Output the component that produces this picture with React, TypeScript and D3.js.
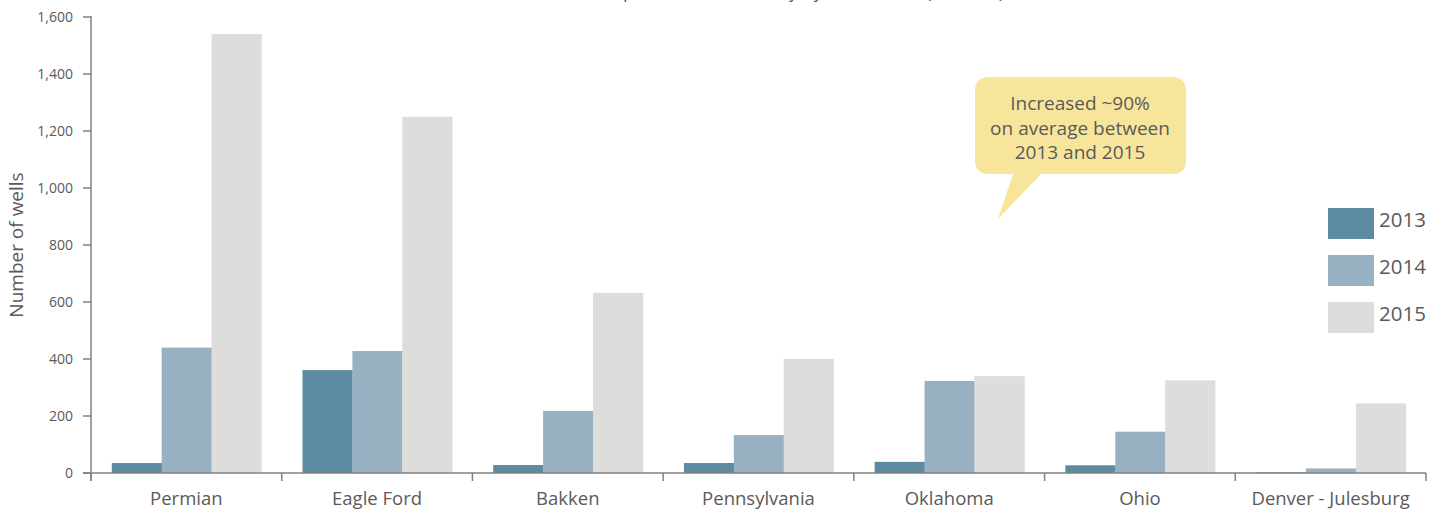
import React, { useEffect } from "react";
import * as d3 from "d3";

const categories = ["Permian", "Eagle Ford", "Bakken", "Pennsylvania", "Oklahoma", "Ohio", "Denver - Julesburg"];
const years = ["2013", "2014", "2015"];
const values2013 = [35, 361, 28, 35, 39, 27, 2];
const values2014 = [440, 428, 218, 133, 323, 145, 16];
const values2015 = [1540, 1250, 632, 400, 340, 325, 244];
const yTicks = [0, 200, 400, 600, 800, 1000, 1200, 1400, 1600];
const colors = ["#5b8aa2", "#97b1c3", "#dddddc"];
const titleText = "Drilled but uncompleted well inventory by shale basin (number)";
const calloutLines = ["Increased ~90%", "on average between", "2013 and 2015"];

const W = 1445;
const H = 514;
const FONT = "'Open Sans', 'Noto Sans', sans-serif";
const TXT = "#5a5a5a";
const AX = "#808080";

export default function App() {
  useEffect(() => {
    document.body.style.margin = "0";
  }, []);

  const series = [values2013, values2014, values2015];
  const x = d3.scaleBand<string>().domain(categories).range([91, 1426]).padding(0);
  const bw = x.bandwidth();
  const xs = d3.scaleBand<string>().domain(years).range([bw * 0.109, bw * 0.894]).padding(0);
  const y = d3.scaleLinear().domain([0, 1600]).range([473, 17]);
  const fmt = d3.format(",");

  const boundaries = categories.map((c) => x(c) as number).concat([x.range()[1]]);

  const bx0 = 975, bx1 = 1186, by0 = 77, by1 = 174, r = 14;
  const callout = `M${bx0 + r},${by0} H${bx1 - r} Q${bx1},${by0} ${bx1},${by0 + r} V${by1 - r} Q${bx1},${by1} ${bx1 - r},${by1} H1041 L998,219 L1013,${by1} H${bx0 + r} Q${bx0},${by1} ${bx0},${by1 - r} V${by0 + r} Q${bx0},${by0} ${bx0 + r},${by0} Z`;

  return (
    <svg width={W} height={H} style={{ display: "block", fontFamily: FONT, fontWeight: 400 }}>
      <rect width={W} height={H} fill="#fff" />
      <text x={738} y={-2} textAnchor="middle" fontSize={18} fill={TXT}>{titleText}</text>

      {categories.map((c, i) => (
        <g key={c} transform={`translate(${x(c)},0)`}>
          {years.map((yr, k) => {
            const v = series[k][i];
            return (
              <rect key={yr} x={xs(yr)} y={y(v)} width={xs.bandwidth() + 0.3} height={y(0) - y(v)} fill={colors[k]} />
            );
          })}
        </g>
      ))}

      <line x1={91} x2={91} y1={16} y2={481} stroke={AX} strokeWidth={1.5} />
      {yTicks.map((t) => (
        <g key={t}>
          <line x1={83} x2={91} y1={y(t)} y2={y(t)} stroke={AX} strokeWidth={1.5} />
          <text x={73} y={y(t)} dy="0.35em" textAnchor="end" fontSize={14} fill={TXT}>{fmt(t)}</text>
        </g>
      ))}
      <text transform={`translate(23,245) rotate(-90)`} textAnchor="middle" fontSize={19} fill={TXT}>Number of wells</text>

      <line x1={83} x2={1426} y1={473} y2={473} stroke={AX} strokeWidth={1.5} />
      {boundaries.map((b, i) => (
        <line key={i} x1={b} x2={b} y1={473} y2={481} stroke={AX} strokeWidth={1.5} />
      ))}
      {categories.map((c) => (
        <text key={c} x={(x(c) as number) + bw / 2} y={505} textAnchor="middle" fontSize={18.5} fill={TXT}>{c}</text>
      ))}

      <path d={callout} fill="#f8e59c" />
      {calloutLines.map((l, i) => (
        <text key={i} x={1080} y={110 + i * 24.5} textAnchor="middle" fontSize={19} fill={TXT}>{l}</text>
      ))}

      {years.map((yr, k) => (
        <g key={yr} transform={`translate(1328,${208 + k * 47})`}>
          <rect width={46} height={31} fill={colors[k]} />
          <text x={51} y={19} fontSize={20.5} fill={TXT}>{yr}</text>
        </g>
      ))}
    </svg>
  );
}
